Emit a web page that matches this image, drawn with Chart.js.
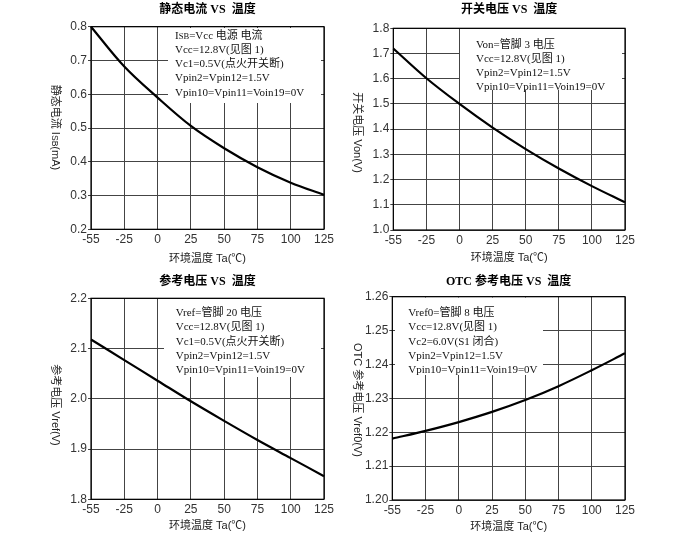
<!DOCTYPE html>
<html>
<head>
<meta charset="utf-8">
<script src="https://cdn.jsdelivr.net/npm/chart.js@4"></script>
<style>
  html, body { margin: 0; padding: 0; background: #fff; }
  body { width: 675px; height: 535px; position: relative; overflow: hidden; }
  canvas { position: absolute; }
</style>
</head>
<body>
<canvas id="c1" width="338" height="268" style="left:0;top:0"></canvas>
<canvas id="c2" width="337" height="268" style="left:338px;top:0"></canvas>
<canvas id="c3" width="338" height="267" style="left:0;top:268px"></canvas>
<canvas id="c4" width="337" height="267" style="left:338px;top:268px"></canvas>
<script>
// ---- data ----
const tempLabels = ['-55', '-25', '0', '25', '50', '75', '100', '125'];
const isbValues   = [0.800, 0.682, 0.590, 0.506, 0.440, 0.384, 0.338, 0.302];
const vonValues   = [1.720, 1.602, 1.500, 1.406, 1.321, 1.244, 1.174, 1.110];
const vrefValues  = [2.118, 2.077, 2.036, 1.995, 1.956, 1.918, 1.882, 1.846];
const vref0Values = [1.2181, 1.2204, 1.2230, 1.2260, 1.2295, 1.2336, 1.2383, 1.2433];

const titles = ['静态电流 VS  温度', '开关电压 VS  温度', '参考电压 VS  温度', 'OTC 参考电压 VS  温度'];
const xTitle = '环境温度 Ta(℃)';
const yTitles = ['静态电流 I_{SB}(mA)', '开关电压 Von(V)', '参考电压 Vref(V)', 'OTC 参考电压 Vref0(V)'];
const notes1 = ['I_{SB}=Vcc 电源 电流', 'Vcc=12.8V(见图 1)', 'Vc1=0.5V(点火开关断)', 'Vpin2=Vpin12=1.5V', 'Vpin10=Vpin11=Voin19=0V'];
const notes2 = ['Von=管脚 3 电压', 'Vcc=12.8V(见图 1)', 'Vpin2=Vpin12=1.5V', 'Vpin10=Vpin11=Voin19=0V'];
const notes3 = ['Vref=管脚 20 电压', 'Vcc=12.8V(见图 1)', 'Vc1=0.5V(点火开关断)', 'Vpin2=Vpin12=1.5V', 'Vpin10=Vpin11=Voin19=0V'];
const notes4 = ['Vref0=管脚 8 电压', 'Vcc=12.8V(见图 1)', 'Vc2=6.0V(S1 闭合)', 'Vpin2=Vpin12=1.5V', 'Vpin10=Vpin11=Voin19=0V'];

// ---- helpers ----
const NOTE_FONT = '"Liberation Serif", "Noto Sans CJK SC", serif';
const CJK_FONT = '"Liberation Sans", "Noto Sans CJK SC", sans-serif';

function parseSegs(str) {
  const parts = [];
  const re = /_\{(.*?)\}/g;
  let last = 0, m;
  while ((m = re.exec(str))) {
    if (m.index > last) parts.push({t: str.slice(last, m.index), s: false});
    parts.push({t: m[1], s: true});
    last = re.lastIndex;
  }
  if (last < str.length) parts.push({t: str.slice(last), s: false});
  return parts;
}
function segWidth(ctx, segs, size, family) {
  let w = 0;
  segs.forEach(p => { ctx.font = (p.s ? size * 0.78 : size) + 'px ' + family; w += ctx.measureText(p.t).width; });
  return w;
}
function drawSegs(ctx, segs, x, y, size, family) {
  segs.forEach(p => {
    ctx.font = (p.s ? size * 0.78 : size) + 'px ' + family;
    ctx.fillText(p.t, x, y + (p.s ? 1 : 0));
    x += ctx.measureText(p.t).width;
  });
}

const decor = {
  id: 'decor',
  beforeDatasetsDraw(chart, args, o) {
    const {ctx, chartArea: a} = chart;
    ctx.save();
    ctx.fillStyle = '#fff';
    ctx.fillRect(o.box[0], o.box[1], o.box[2] - o.box[0], o.box[3] - o.box[1]);
    ctx.strokeStyle = '#000';
    ctx.lineWidth = 1.2;
    ctx.strokeRect(a.left, a.top, a.right - a.left, a.bottom - a.top);
    ctx.fillStyle = '#111';
    ctx.textBaseline = 'middle';
    ctx.textAlign = 'left';
    o.notes.forEach((line, i) => drawSegs(ctx, parseSegs(line), o.tx, o.ty + i * o.step, 11, NOTE_FONT));
    const segs = parseSegs(o.yTitle);
    const w = segWidth(ctx, segs, 11, CJK_FONT);
    ctx.translate(o.yx, o.yy);
    ctx.rotate(Math.PI / 2);
    ctx.fillStyle = '#222';
    drawSegs(ctx, segs, -w / 2, 0, 11, CJK_FONT);
    ctx.restore();
  }
};

function makeChart(id, L, values, yMin, yMax, yStep, dec, title, yTitle, notes) {
  new Chart(document.getElementById(id), {
    type: 'line',
    data: {
      labels: tempLabels,
      datasets: [{
        data: values,
        borderColor: '#000',
        borderWidth: 2.2,
        pointRadius: 0,
        fill: false,
        tension: 0.35
      }]
    },
    options: {
      responsive: false,
      animation: false,
      events: [],
      layout: { padding: { top: 0, right: L.padR, bottom: 0, left: 0 } },
      plugins: {
        legend: { display: false },
        tooltip: { enabled: false },
        title: {
          display: true,
          text: title,
          fullSize: false,
          color: '#000',
          font: { family: '"Liberation Serif", "Noto Sans CJK SC", serif', size: 12, weight: 'bold' },
          padding: { top: L.tTop, bottom: L.tBot }
        },
        decor: {
          box: L.box, notes: notes, tx: L.tx, ty: L.ty, step: L.step,
          yTitle: yTitle, yx: L.yx, yy: L.yy
        }
      },
      scales: {
        x: {
          type: 'category',
          offset: false,
          afterFit: s => { s.height = L.xH; },
          grid: { color: '#444', lineWidth: 1, drawTicks: false, offset: false },
          border: { display: false },
          ticks: { color: '#333', padding: 3, maxRotation: 0, autoSkip: false,
                   font: { family: '"Liberation Sans", sans-serif', size: 12 } },
          title: { display: true, text: xTitle, color: '#222',
                   font: { family: CJK_FONT, size: 11 },
                   padding: { top: 0, bottom: L.xtPad } }
        },
        y: {
          min: yMin, max: yMax,
          afterFit: s => { s.width = L.yW; },
          grid: { color: '#444', lineWidth: 1, drawTicks: true, tickLength: 3 },
          border: { display: false },
          ticks: { stepSize: yStep, color: '#333', padding: 1,
                   font: { family: '"Liberation Sans", sans-serif', size: 12 },
                   callback: v => Number(v).toFixed(dec) }
        }
      }
    },
    plugins: [decor]
  });
}

makeChart('c1', { padR: 14, tTop: 3, tBot: 9.3, xH: 38.7, yW: 91, xtPad: 2.4,
  box: [168, 28, 321, 103], tx: 175, ty: 36, step: 14.2, yx: 55, yy: 127.5 },
  isbValues, 0.2, 0.8, 0.1, 1, titles[0], yTitles[0], notes1);

makeChart('c2', { padR: 50, tTop: 3, tBot: 10.9, xH: 38, yW: 55.3, xtPad: 3,
  box: [122, 29, 284, 90], tx: 138, ty: 45.5, step: 13.8, yx: 18.7, yy: 132.5 },
  vonValues, 1.0, 1.8, 0.1, 1, titles[1], yTitles[1], notes2);

makeChart('c3', { padR: 14, tTop: 7, tBot: 8.9, xH: 35.7, yW: 91, xtPad: 2.4,
  box: [164, 31, 321, 109], tx: 175.7, ty: 45.3, step: 14.2, yx: 55, yy: 137 },
  vrefValues, 1.8, 2.2, 0.1, 1, titles[2], yTitles[2], notes3);

makeChart('c4', { padR: 50, tTop: 6.5, tBot: 7.8, xH: 35, yW: 54.3, xtPad: 1.7,
  box: [57, 29.5, 205, 107], tx: 70.3, ty: 45.3, step: 14.2, yx: 18.7, yy: 132 },
  vref0Values, 1.20, 1.26, 0.01, 2, titles[3], yTitles[3], notes4);
</script>
</body>
</html>
